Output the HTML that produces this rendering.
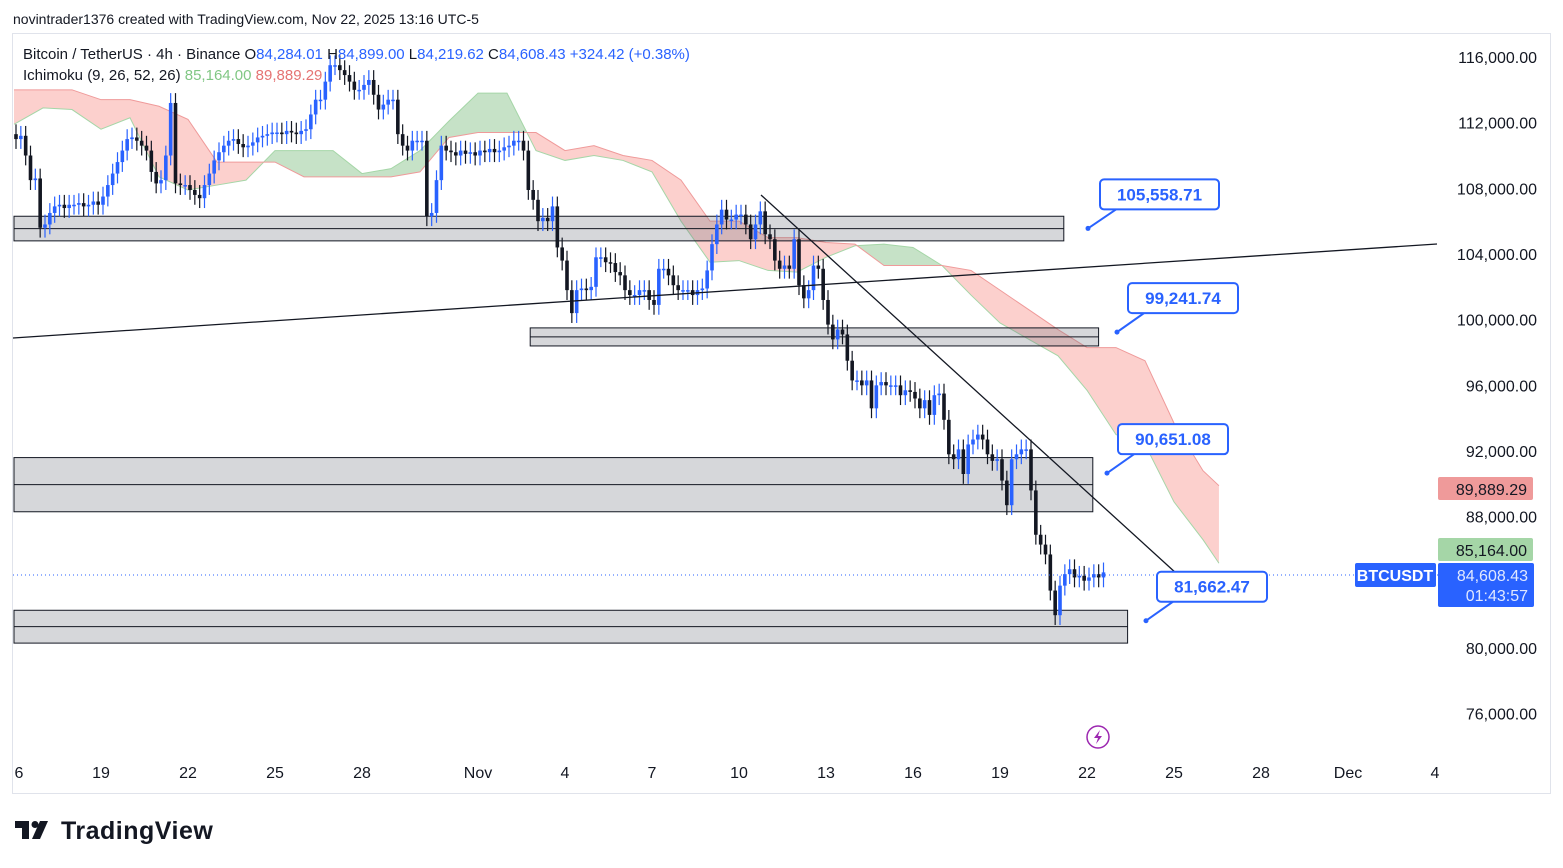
<!DOCTYPE html>
<html><head><meta charset="utf-8">
<style>
html,body{margin:0;padding:0;background:#fff;width:1563px;height:868px;overflow:hidden;font-family:"Liberation Sans",sans-serif;}
#wrap{position:relative;width:1563px;height:868px;}
svg text{font-family:"Liberation Sans",sans-serif;}
</style></head><body>
<div id="wrap">
<svg id="chart" width="1563" height="868" viewBox="0 0 1563 868"></svg>
</div>
<script>
// ---------- data ----------
const closes = [
111.0,111.2,110.0,108.5,108.6,105.6,
105.8,106.5,106.9,107.0,106.8,107.0,
107.0,107.1,106.9,107.0,107.2,107.0,
107.5,108.2,108.9,109.6,110.3,111.0,
111.1,110.9,110.6,110.3,109.0,108.3,
108.5,110.0,113.2,108.3,108.2,108.2,
107.9,107.6,107.4,108.2,108.9,109.7,
110.2,110.6,110.9,111.0,110.7,110.5,
110.6,110.8,111.1,111.2,111.3,111.4,
111.4,111.3,111.5,111.4,111.3,111.5,
111.6,112.5,113.4,113.4,114.5,115.5,
115.5,115.2,114.9,114.5,114.0,114.0,
114.3,114.6,113.7,112.8,113.1,113.4,
113.4,111.3,110.6,110.3,110.9,110.9,
110.9,106.3,106.5,108.5,110.6,110.3,
110.2,110.0,110.3,110.1,110.2,110.0,
110.3,110.2,110.4,110.2,110.3,110.5,
110.6,110.9,110.9,110.3,107.9,107.3,
106.0,106.2,106.0,106.9,104.4,103.6,
101.8,100.4,101.8,101.9,101.8,102.0,
103.8,103.8,103.5,103.45,102.9,102.7,
101.8,101.5,101.5,101.8,101.8,101.2,
100.9,103.1,103.1,102.7,102.1,101.8,
101.8,101.8,101.5,101.8,101.9,103.0,
104.6,105.8,106.7,106.1,106.1,106.4,
106.4,105.8,104.9,105.8,106.6,105.2,
104.9,103.6,103.1,103.3,103.1,104.9,
102.1,101.3,101.8,103.3,103.1,101.2,
99.7,98.8,99.4,99.1,97.5,96.3,
96.3,96.0,96.3,94.6,96.0,96.2,
96.0,96.0,96.0,95.4,95.7,95.6,
95.2,94.6,95.1,94.2,95.4,95.5,
93.9,91.8,91.5,92.1,90.6,92.4,
92.7,93.0,92.7,91.8,91.4,91.5,
90.2,88.7,91.5,91.8,92.1,92.1,
89.6,86.9,86.3,85.7,83.5,82.0,
83.8,84.5,84.8,84.3,84.4,84.1,
84.3,84.5,84.3,84.608
];
const firstOpen = 111.3;
const cloudDays = [0,1,2,3,4,5,6,7,8,9,10,11,12,13,14,15,16,17,18,19,20,21,22,23,24,25,26,27,28,29,30,31,32,33,34,35,36,37,38,39,40,41,41.55];
const spanB = [114.0,114.0,114.0,113.4,113.4,113.0,112.2,109.6,109.6,109.6,108.7,108.7,108.7,108.7,109.0,111.1,111.4,111.4,111.4,110.3,110.6,110.0,109.7,108.5,106.0,106.0,105.0,105.0,104.7,104.6,103.3,103.3,103.3,103.0,101.8,100.6,99.4,98.3,98.3,97.5,93.7,90.8,89.889];
const spanA = [111.9,112.9,112.8,111.6,112.3,108.7,107.9,108.2,108.5,110.3,110.3,110.3,108.9,109.2,110.3,112.1,113.8,113.8,110.3,109.7,110.0,109.7,109.0,106.0,103.5,103.6,103.0,102.9,103.8,104.5,104.6,104.4,103.3,101.5,99.8,98.8,97.8,95.7,93.0,92.4,88.9,86.6,85.164];
const priceTicks = [116000,112000,108000,104000,100000,96000,92000,88000,80000,76000];
const timeLabels = ["6","19","22","25","28","Nov","4","7","10","13","16","19","22","25","28","Dec","4"];
const timeLabelDays = [-2.8,3,6,9,12,16,19,22,25,28,31,34,37,40,43,46,49];
const zones = [[106.3,104.8,0,36.2],[99.5,98.4,17.8,37.4],[91.6,88.3,0,37.2],[82.3,80.3,0,38.4]];
const callouts = [105558.71,99241.74,90651.08,81662.47];

// ---------- scales ----------
const y = p => 57 + (116 - p) * 65.67 / 4;          // p in thousands
const xd = d => 14 + d * 29.0;                      // days since Oct 16
const xc = i => xd(i / 6) + 2;

const svg = document.getElementById('chart');
const NS = 'http://www.w3.org/2000/svg';
function mk(tag, attrs, parent) {
  const e = document.createElementNS(NS, tag);
  for (const k in attrs) e.setAttribute(k, attrs[k]);
  (parent || svg).appendChild(e);
  return e;
}
function fmt(v){return v.toLocaleString('en-US',{minimumFractionDigits:2,maximumFractionDigits:2});}

// header
let t = mk('text',{x:13,y:24,'font-size':14,fill:'#131722'});
t.textContent = 'novintrader1376 created with TradingView.com, Nov 22, 2025 13:16 UTC-5';



// frame
let fr = mk('rect',{x:12.5,y:33.5,width:1538,height:760,fill:'none',stroke:'#e0e3eb'});



// cloud
const gCloud = mk('g',{});


for (let i = 0; i < cloudDays.length - 1; i++) {
  const x0 = xd(cloudDays[i]), x1 = xd(cloudDays[i+1]);
  const a0 = spanA[i], a1 = spanA[i+1], b0 = spanB[i], b1 = spanB[i+1];
  const d0 = a0 - b0, d1 = a1 - b1;
  const seg = (xs, xe, as, ae, bs, be) => {
    const green = (as + ae) / 2 > (bs + be) / 2;
    const p = mk('polygon',{points:`${xs},${y(as)} ${xe},${y(ae)} ${xe},${y(be)} ${xs},${y(bs)}`,fill:green?'rgba(67,160,71,0.3)':'rgba(244,67,54,0.25)'},gCloud);
    
    
  };
  if (d0 * d1 < 0) {
    const f = d0 / (d0 - d1), xm = x0 + f * (x1 - x0), am = a0 + f * (a1 - a0);
    seg(x0, xm, a0, am, b0, am); seg(xm, x1, am, a1, am, b1);
  } else seg(x0, x1, a0, a1, b0, b1);
}
let ptsA = cloudDays.map((d,i)=>`${xd(d)},${y(spanA[i])}`).join(' ');
let ptsB = cloudDays.map((d,i)=>`${xd(d)},${y(spanB[i])}`).join(' ');
let la = mk('polyline',{points:ptsA,fill:'none',stroke:'#a5d6a7','stroke-width':1},gCloud);


let lb = mk('polyline',{points:ptsB,fill:'none',stroke:'#ef9a9a','stroke-width':1},gCloud);



// zones
zones.forEach((z,i) => {
  const x0 = xd(z[2]), x1 = xd(z[3]), yt = y(z[0]), yb = y(z[1]);
  const r = mk('rect',{x:x0,y:yt,width:x1-x0,height:yb-yt,fill:'rgba(120,123,134,0.3)',stroke:'#131722','stroke-width':1});
  
  
  const m = mk('line',{x1:x0,x2:x1,y1:(yt+yb)/2,y2:(yt+yb)/2,stroke:'#131722','stroke-width':1});
  
  
});

// candles
const gC = mk('g',{});


closes.forEach((c,i) => {
  const o = i === 0 ? firstOpen : closes[i-1];
  const up = c >= o;
  const col = up ? '#2962ff' : '#131722';
  const hi = Math.max(o,c) + 0.6, lo = Math.min(o,c) - 0.6;
  const x = xc(i);
  const w = mk('line',{x1:x,x2:x,y1:y(hi),y2:y(lo),stroke:col,'stroke-width':1.2},gC);
  
  
  const top = y(Math.max(o,c)), h = Math.max(1.5, y(Math.min(o,c)) - top);
  const b = mk('rect',{x:x-1.8,y:top,width:3.6,height:h,fill:col},gC);
  
  
});

// lines
let l1 = mk('line',{x1:13,y1:338,x2:1437,y2:244,stroke:'#131722','stroke-width':1.3});


let l2 = mk('line',{x1:761,y1:195,x2:1188,y2:584,stroke:'#131722','stroke-width':1.3});



// last price dotted line
const lastY = 575;
let dl = mk('line',{x1:13,x2:1438,y1:lastY,y2:lastY,stroke:'#2962ff','stroke-width':1,'stroke-dasharray':'1 3'});



// callouts
const calloutBoxX = [1100,1128,1118,1157];
callouts.forEach((v,i) => {
  const py = y(v/1000);
  const dotX = 1088 + [0,29,19,58][i];
  const bx = calloutBoxX[i], by = py - 49, bw = v >= 100000 ? 119 : 110;
  const g = mk('g',{});
  
  
  mk('line',{x1:dotX,y1:py,x2:bx+16,y2:by+30,stroke:'#2962ff','stroke-width':2},g);
  mk('circle',{cx:dotX,cy:py,r:2.5,fill:'#2962ff'},g);
  mk('rect',{x:bx,y:by,width:bw,height:30,rx:4,fill:'#fff',stroke:'#2962ff','stroke-width':2},g);
  const tx = mk('text',{x:bx+bw/2,y:by+21,'text-anchor':'middle','font-size':17,'font-weight':'bold',fill:'#2962ff'},g);
  tx.textContent = fmt(v);
});

// price axis labels
priceTicks.forEach(p => {
  const tk = mk('text',{x:1537,y:y(p/1000)+6,'text-anchor':'end','font-size':16,fill:'#131722'});
  tk.textContent = fmt(p);
  
  
});
// tags
function tag(name, x, yy, w, h, fill, color, lines) {
  const g = mk('g',{});
  
  
  mk('rect',{x:x,y:yy,width:w,height:h,rx:2,fill:fill},g);
  lines.forEach((s,k) => {
    const tx = mk('text',{x:x+w-6,y:yy+18+k*20,'text-anchor':'end','font-size':16,fill:color},g);
    tx.textContent = s;
  });
}
tag('span-b-price-tag',1438,477,95,23,'#ef9a9a','#131722',['89,889.29']);
tag('span-a-price-tag',1438,538,95,23,'#a5d6a7','#131722',['85,164.00']);
tag('last-price-tag',1438,563,96,44,'#2962ff','#e0e8ff',['84,608.43','01:43:57']);
let sym = mk('g',{});


mk('rect',{x:1355,y:563,width:81,height:24,rx:2,fill:'#2962ff'},sym);
let st = mk('text',{x:1395,y:581,'text-anchor':'middle','font-size':16,fill:'#fff','font-weight':'bold'},sym);
st.textContent = 'BTCUSDT';

// time labels
timeLabels.forEach((s,i) => {
  const tl = mk('text',{x:Math.max(19,xd(timeLabelDays[i])),y:778,'text-anchor':'middle','font-size':16,fill:'#131722'});
  tl.textContent = s;
  
  
});

// legend
const lg = mk('g',{});


let t1 = mk('text',{x:23,y:59,'font-size':15,fill:'#131722'},lg);
t1.innerHTML = 'Bitcoin / TetherUS · 4h · Binance  O<tspan fill="#2962ff">84,284.01</tspan>  H<tspan fill="#2962ff">84,899.00</tspan>  L<tspan fill="#2962ff">84,219.62</tspan>  C<tspan fill="#2962ff">84,608.43</tspan>  <tspan fill="#2962ff">+324.42 (+0.38%)</tspan>';
t1.setAttribute('xml:space','preserve');
let t2 = mk('text',{x:23,y:80,'font-size':15,fill:'#131722'},lg);
t2.innerHTML = 'Ichimoku (9, 26, 52, 26)  <tspan fill="#81c784">85,164.00</tspan>  <tspan fill="#e57373">89,889.29</tspan>';
t2.setAttribute('xml:space','preserve');

// lightning icon
const li = mk('g',{});


mk('circle',{cx:1098,cy:737,r:11,fill:'#fff',stroke:'#9c27b0','stroke-width':1.5},li);
mk('path',{d:'M1100 730 L1094 738 L1098 738 L1096 744 L1102 736 L1098 736 Z',fill:'#9c27b0'},li);

// logo
const lo = mk('g',{});


mk('path',{d:'M15 821 h14 v18 h-7 v-11 h-7 z',fill:'#131722'},lo);
mk('circle',{cx:35,cy:824.5,r:3.5,fill:'#131722'},lo);
mk('path',{d:'M40 821 h8 l-8 18 h-8 z',fill:'#131722'},lo);
let lt = mk('text',{x:61,y:839,'font-size':25,'font-weight':'bold',fill:'#131722','letter-spacing':'0.5'},lo);
lt.textContent = 'TradingView';
</script>
</body></html>
